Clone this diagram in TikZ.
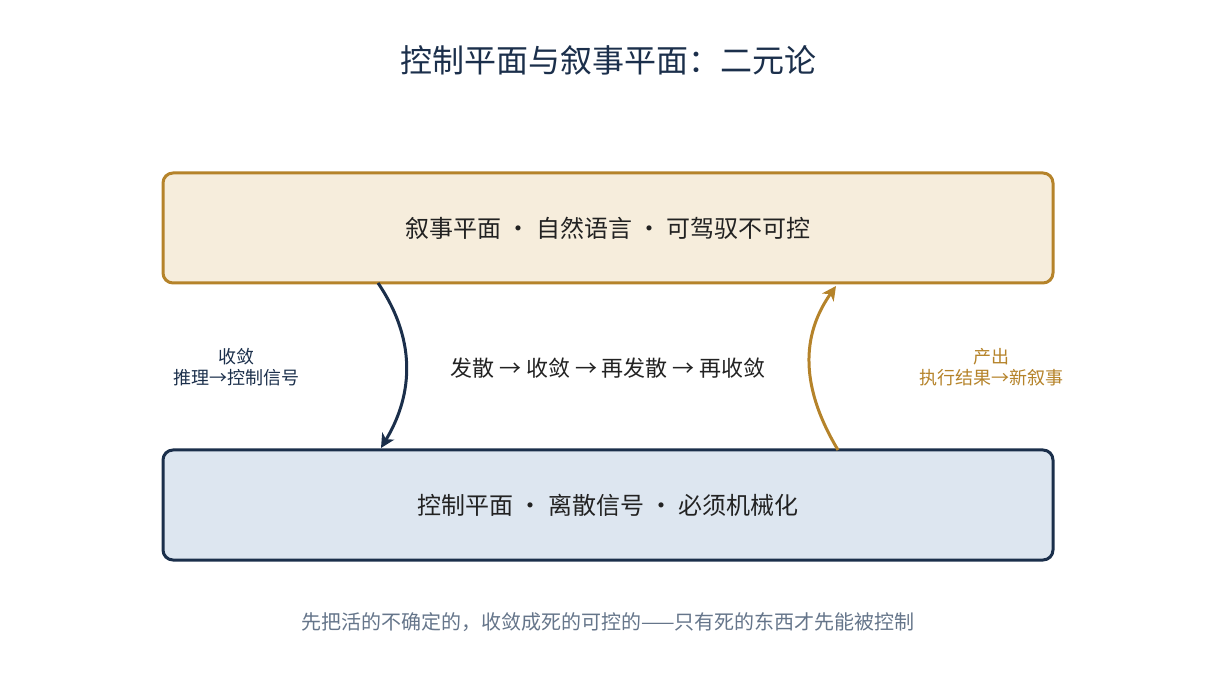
\documentclass[tikz,border=0pt]{standalone}
\usepackage{fontspec}
\setmainfont{Noto Sans CJK SC}
\usetikzlibrary{arrows.meta}
\definecolor{navy}{HTML}{1B2F4B}
\definecolor{gold}{HTML}{B5832A}
\definecolor{goldfill}{HTML}{F6EDDC}
\definecolor{bluefill}{HTML}{DDE6F0}
\definecolor{txt}{HTML}{222222}
\definecolor{foot}{HTML}{65758A}
\tikzset{
  plane/.style={draw, line width=3pt, rounded corners=10pt, minimum width=890pt, minimum height=110pt, text=txt, font=\fontsize{24}{28}\selectfont},
  lbl/.style={align=center, font=\fontsize{18}{21}\selectfont},
  flow/.style={line width=3pt, -{Stealth[length=14pt,width=14pt,inset=4pt]}}
}
\begin{document}
\begin{tikzpicture}[x=1pt,y=-1pt]
\useasboundingbox (0,0) rectangle (1216,700);
\node[text=navy, font=\fontsize{32}{36}\selectfont] (title) at (608,60) {控制平面与叙事平面：二元论};
\node[plane, draw=gold, fill=goldfill] (top) at (608,228) {叙事平面 · 自然语言 · 可驾驭不可控};
\node[plane, draw=navy, fill=bluefill] (bot) at (608,505) {控制平面 · 离散信号 · 必须机械化};
\coordinate (a1) at (378,283);
\coordinate (a2) at (381,448);
\coordinate (b1) at (838,450);
\coordinate (b2) at (836,286);
\draw[flow, navy] (a1) .. controls (420,345) and (410,400) .. (a2);
\draw[flow, gold] (b1) .. controls (796,380) and (805,330) .. (b2);
\node[lbl, text=navy] (ll) at (236,367) {收敛\\推理→控制信号};
\node[lbl, text=gold] (rl) at (991,367) {产出\\执行结果→新叙事};
\node[text=txt, font=\fontsize{22}{26}\selectfont] (mid) at (608,368) {发散 → 收敛 → 再发散 → 再收敛};
\node[text=foot, font=\fontsize{20}{24}\selectfont] (ft) at (608,622) {先把活的不确定的，收敛成死的可控的——只有死的东西才先能被控制};
\end{tikzpicture}
\end{document}
